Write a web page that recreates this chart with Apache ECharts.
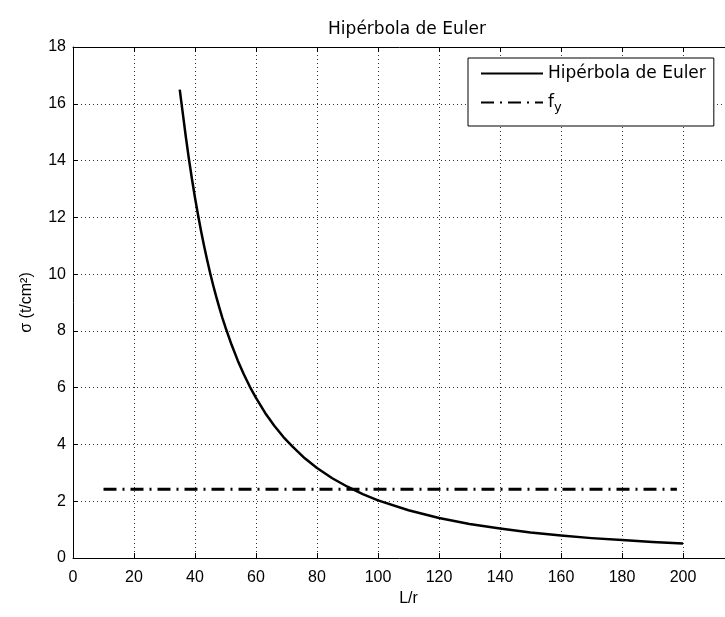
<!DOCTYPE html>
<html>
<head>
<meta charset="utf-8">
<script src="https://cdn.jsdelivr.net/npm/echarts@6/dist/echarts.min.js"></script>
<style>html,body{margin:0;padding:0;background:#fff}#c{width:725px;height:617px}</style>
</head>
<body>
<div id="c"></div>
<script>
// Data
const lr = [35, 36, 37, 38, 39, 40, 41, 42, 43, 44, 45, 46, 47, 48, 49, 50, 52, 54, 56, 58, 60, 63, 66, 69, 72, 76, 80, 85, 90, 95, 100, 110, 120, 130, 140, 150, 160, 170, 180, 190, 200];
const sigma = [16.5, 15.66, 14.83, 14.06, 13.35, 12.69, 12.08, 11.51, 10.98, 10.49, 10.02, 9.59, 9.19, 8.81, 8.45, 8.12, 7.51, 6.96, 6.47, 6.03, 5.64, 5.11, 4.66, 4.26, 3.92, 3.51, 3.17, 2.81, 2.51, 2.25, 2.03, 1.68, 1.41, 1.20, 1.04, 0.90, 0.79, 0.70, 0.63, 0.56, 0.51];
const fyX = [10, 198];
const fyVal = [2.42, 2.42];
const xTicks = [0, 20, 40, 60, 80, 100, 120, 140, 160, 180, 200, 220];
const yTicks = [0, 2, 4, 6, 8, 10, 12, 14, 16, 18];
const seriesNames = ['Hipérbola de Euler', 'fy'];
const titleText = 'Hipérbola de Euler';
const xName = 'L/r';
const yName = 'σ (t/cm²)';

const chart = echarts.init(document.getElementById('c'), null, {renderer: 'canvas'});
const tickFont = {fontFamily: 'Liberation Sans', fontSize: 16, color: '#000'};
const gridLine = {show: true, lineStyle: {color: '#333', type: [1, 3], width: 1}};
chart.setOption({
  animation: false,
  backgroundColor: '#fff',
  title: {
    text: titleText, left: 402, top: 16, textAlign: 'center',
    textStyle: {fontFamily: 'DejaVu Sans', fontSize: 17, fontWeight: 'normal', color: '#000'}
  },
  grid: {left: 73, top: 47, width: 671, height: 511, containLabel: false, outerBoundsMode: 'none'},
  legend: {
    orient: 'vertical', left: 468, top: 58,
    backgroundColor: '#fff', borderColor: '#000', borderWidth: 1,
    padding: [7, 8, 12, 12], itemWidth: 62, itemHeight: 14, itemGap: 12,
    data: seriesNames,
    itemStyle: {opacity: 0},
    formatter: n => n === 'fy' ? '{a|f}{b|y}' : n,
    textStyle: {
      fontFamily: 'DejaVu Sans', fontSize: 17, color: '#000',
      rich: {a: {fontFamily: 'DejaVu Sans', fontSize: 17, color: '#000'},
             b: {fontFamily: 'DejaVu Sans', fontSize: 13, color: '#000', padding: [10, 0, 0, 0]}}
    }
  },
  xAxis: [{
    type: 'value', min: xTicks[0], max: xTicks[xTicks.length - 1], interval: 20,
    name: xName, nameLocation: 'middle', nameGap: 32,
    nameTextStyle: {fontFamily: 'Liberation Sans', fontSize: 16, color: '#000'},
    axisLine: {lineStyle: {color: '#000', width: 1}},
    axisTick: {inside: true, length: 5, lineStyle: {color: '#000'}},
    axisLabel: Object.assign({margin: 12}, tickFont),
    splitLine: gridLine
  }, {
    type: 'value', position: 'top', min: xTicks[0], max: xTicks[xTicks.length - 1], interval: 20,
    axisLine: {show: true, lineStyle: {color: '#000', width: 1}},
    axisTick: {inside: true, length: 5, lineStyle: {color: '#000'}},
    axisLabel: {show: false}, splitLine: {show: false}
  }],
  yAxis: {
    type: 'value', min: yTicks[0], max: yTicks[yTicks.length - 1], interval: 2,
    name: yName, nameLocation: 'middle', nameGap: 38, nameRotate: 90,
    nameTextStyle: {fontFamily: 'Liberation Sans', fontSize: 16, color: '#000'},
    axisLine: {show: true, lineStyle: {color: '#000', width: 1}},
    axisTick: {inside: true, length: 5, lineStyle: {color: '#000'}},
    axisLabel: Object.assign({margin: 7}, tickFont),
    splitLine: gridLine
  },
  series: [{
    name: seriesNames[0], type: 'line', xAxisIndex: 0,
    data: lr.map((x, i) => [x, sigma[i]]),
    symbol: 'none', smooth: false,
    lineStyle: {color: '#000', width: 2.5, join: 'round'}, itemStyle: {color: '#000'}
  }, {
    name: seriesNames[1], type: 'line', xAxisIndex: 0,
    data: fyX.map((x, i) => [x, fyVal[i]]),
    symbol: 'none',
    lineStyle: {color: '#000', width: 3, type: [13, 6, 2, 6]}, itemStyle: {color: '#000'}
  }]
});
</script>
</body>
</html>
